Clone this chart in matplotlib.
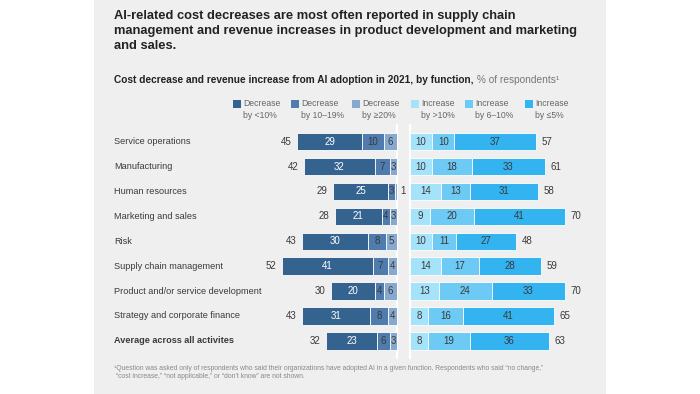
import matplotlib as mpl
import matplotlib.pyplot as plt
from matplotlib.patches import Rectangle

mpl.rcParams.update({
    "font.family": ["Liberation Sans", "DejaVu Sans"],
    "font.size": 7,
})

CATEGORIES = ["Service operations", "Manufacturing", "Human resources", "Marketing and sales",
              "Risk", "Supply chain management", "Product and/or service development",
              "Strategy and corporate finance", "Average across all activites"]
# decrease segments, listed from the zero line outward
DEC_GE20 = [6, 3, 1, 3, 5, 4, 6, 4, 3]
DEC_10_19 = [10, 7, 3, 4, 8, 7, 4, 8, 6]
DEC_LT10 = [29, 32, 25, 21, 30, 41, 20, 31, 23]
# increase segments, listed from the zero line outward
INC_GT10 = [10, 10, 14, 9, 10, 14, 13, 8, 8]
INC_6_10 = [10, 18, 13, 20, 11, 17, 24, 16, 19]
INC_LE5 = [37, 33, 31, 41, 27, 28, 33, 41, 36]

LEGEND_LABELS = ["Decrease\nby <10%", "Decrease\nby 10\u201319%", "Decrease\nby \u226520%",
                 "Increase\nby >10%", "Increase\nby 6\u201310%", "Increase\nby \u22645%"]
DEC_COLORS = ["#88a9cf", "#4f7cad", "#356390"]   # >=20, 10-19, <10
INC_COLORS = ["#a5e3fb", "#6dcaf4", "#33b4f0"]   # >10, 6-10, <=5

W, H = 700, 394
fig = plt.figure(figsize=(7, 3.94), dpi=100)
fig.patch.set_facecolor("white")
fig.patches.append(Rectangle((94 / W, 0), 512 / W, 1, transform=fig.transFigure,
                             facecolor="#efefef", edgecolor="none", zorder=-10))

PX = 2.213  # pixels per percentage point
top, bot = 129.2, 353.3
ax_l = fig.add_axes([114 / W, (H - bot) / H, 283 / W, (bot - top) / H])
ax_r = fig.add_axes([410 / W, (H - bot) / H, 196 / W, (bot - top) / H])
ax_l.set_xlim(283 / PX, 0)
ax_r.set_xlim(0, 196 / PX)
n = len(CATEGORIES)
for ax in (ax_l, ax_r):
    ax.set_ylim(n - 0.5, -0.5)
    ax.axis("off")
    ax.patch.set_alpha(0)
    ax.axvline(0, ymin=-0.02, ymax=1.02, color="white", lw=1.6, zorder=0, clip_on=False)

y = list(range(n))
TXT = "#3a3a3a"


def stack(ax, series, colors, side):
    left = [0] * n
    for vals, col in zip(series, colors):
        ax.barh(y, vals, left=left, height=0.70, color=col, edgecolor="white", lw=0.6, zorder=2)
        tc = "white" if col == "#356390" else TXT
        for i, v in enumerate(vals):
            if v >= 2:
                ax.text(left[i] + v / 2, i, str(v), ha="center", va="center", color=tc, zorder=3)
            else:
                ax.text(-1.6, i, str(v), ha="left", va="center", color=TXT, clip_on=False)
            left[i] += v
    for i, tot in enumerate(left):
        ax.text(tot + 2.5, i, str(tot), ha="right" if side == "l" else "left",
                va="center", color=TXT)


stack(ax_l, [DEC_GE20, DEC_10_19, DEC_LT10], DEC_COLORS, "l")
stack(ax_r, [INC_GT10, INC_6_10, INC_LE5], INC_COLORS, "r")

for i, cat in enumerate(CATEGORIES):
    ax_l.text(0, i, cat, transform=ax_l.get_yaxis_transform(), ha="left", va="center",
              color=TXT, fontsize=6.6, fontweight="bold" if i == n - 1 else "normal")

# titles
fig.text(114 / W, 1 - 10 / H, "AI-related cost decreases are most often reported in supply chain\n"
         "management and revenue increases in product development and marketing\nand sales.",
         ha="left", va="top", fontsize=9.3, fontweight="bold", color="#222222", linespacing=1.36)
t1 = fig.text(114 / W, 1 - 80 / H,
              "Cost decrease and revenue increase from AI adoption in 2021, by function,",
              ha="left", va="center", fontsize=7.3, fontweight="bold", color="#222222")
ax_l.annotate(" % of respondents\u00b9", xy=(1, 0), xycoords=t1, ha="left", va="bottom",
              fontsize=7.3, color="#777777")

# legend
LEG_X = [233, 291, 352, 411, 465, 525]
colors_leg = [DEC_COLORS[2], DEC_COLORS[1], DEC_COLORS[0]] + INC_COLORS
for x, lab, col in zip(LEG_X, LEGEND_LABELS, colors_leg):
    fig.patches.append(Rectangle((x / W, 1 - 108 / H), 8 / W, 8 / H, transform=fig.transFigure,
                                 facecolor=col, edgecolor="none"))
    fig.text((x + 10) / W, 1 - 99 / H, lab, ha="left", va="top", fontsize=6.2,
             color="#666666", linespacing=1.5, multialignment="left")

fig.text(114 / W, 1 - 364.5 / H,
         "\u00b9Question was asked only of respondents who said their organizations have adopted AI in a given "
         "function. Respondents who said \u201cno change,\u201d\n \u201ccost increase,\u201d \u201cnot applicable,\u201d "
         "or \u201cdon\u2019t know\u201d are not shown.",
         ha="left", va="top", fontsize=4.9, color="#888888", linespacing=1.3)

fig.savefig("out.png", dpi=100)
